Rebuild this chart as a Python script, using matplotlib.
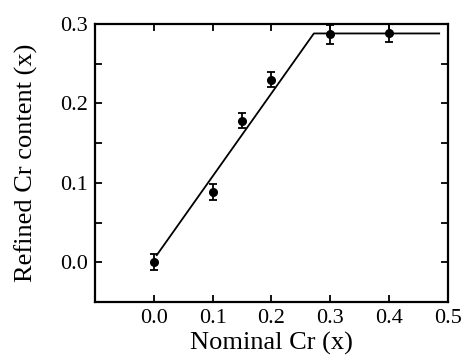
import matplotlib
matplotlib.use("Agg")
import matplotlib.pyplot as plt
from matplotlib.ticker import MultipleLocator

nominal = [0.0, 0.1, 0.15, 0.2, 0.3, 0.4]
refined = [0.0, 0.088, 0.178, 0.230, 0.287, 0.289]
err = [0.010, 0.010, 0.0095, 0.0095, 0.012, 0.012]
fit_x = [0.005, 0.272, 0.485]
fit_y = [0.009, 0.288, 0.288]

plt.rcParams['font.family'] = ['Liberation Serif', 'DejaVu Serif']
fig = plt.figure(figsize=(4.62, 3.57), dpi=100)
ax = fig.add_axes([0.2056, 0.154, 0.9697 - 0.2056, 0.933 - 0.154])

ax.plot(fit_x, fit_y, color='black', lw=1.3)
ax.errorbar(nominal, refined, yerr=err, fmt='o', color='black', ms=5.5,
            capsize=3, elinewidth=1.3, capthick=1.3)

ax.set_xlim(-0.1, 0.5)
ax.set_ylim(-0.05, 0.3)
ax.yaxis.set_major_locator(MultipleLocator(0.1))
ax.yaxis.set_minor_locator(MultipleLocator(0.05))
ax.set_xticks([0.0, 0.1, 0.2, 0.3, 0.4, 0.5])
ax.set_xticklabels(['0.0', '0.1', '0.2', '0.3', '0.4', '0.5'])
ax.tick_params(which='both', direction='in', top=True, right=True,
               labelsize=16, width=1.3, length=5)
ax.tick_params(axis='y', pad=5)
ax.tick_params(axis='x', pad=5)
for s in ax.spines.values():
    s.set_linewidth(1.6)
ax.set_xlabel('Nominal Cr (x)', fontsize=19, labelpad=3)
ax.set_ylabel('Refined Cr content (x)', fontsize=19, labelpad=16)

fig.savefig('out.png', dpi=100)
